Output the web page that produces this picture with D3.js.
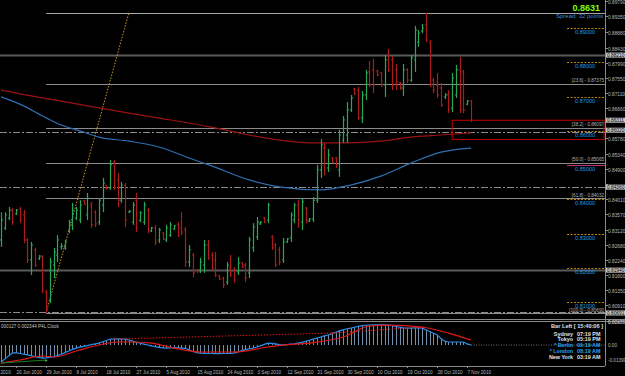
<!DOCTYPE html>
<html><head><meta charset="utf-8">
<script src="https://cdn.jsdelivr.net/npm/d3@7"></script>
<style>
body{margin:0;background:#000;overflow:hidden}
svg{display:block}
text{font-family:"Liberation Sans",Arial,sans-serif}
</style>
</head><body>
<svg id="c" width="625" height="376"></svg>
<script>
// ---------------- DATA ----------------
const dateLabels = ["11 Jun 2010","20 Jun 2010","29 Jun 2010","8 Jul 2010","18 Jul 2010","27 Jul 2010","5 Aug 2010","15 Aug 2010","24 Aug 2010","3 Sep 2010","12 Sep 2010","21 Sep 2010","30 Sep 2010","10 Oct 2010","19 Oct 2010","28 Oct 2010","7 Nov 2010"];
const dateBars = [-4,4,12,20,28,36,44,52,60,68,76,84,92,100,108,116,124];

const open  = [.8282,.8317,.8346,.8369,.8358,.8372,.8355,.8282,.8224,.8253,.8227,.8232,.8130,.8107,.8209,.8238,.8262,.8259,.8311,.8326,
 .8346,.8340,.8396,.8355,.8384,.8363,.8334,.8384,.8442,.8434,.8509,.8457,.8398,.8442,.8363,.8334,.8398,.8340,.8334,.8369,
 .8308,.8317,.8282,.8302,.8282,.8296,.8314,.8326,.8317,.8311,.8218,.8238,.8194,.8194,.8209,.8267,.8238,.8224,.8177,.8171,
 .8159,.8203,.8194,.8189,.8215,.8209,.8186,.8259,.8291,.8329,.8346,.8340,.8291,.8267,.8253,.8224,.8276,.8288,.8340,.8384,
 .8334,.8375,.8337,.8343,.8398,.8486,.8550,.8492,.8521,.8521,.8486,.8573,.8588,.8661,.8722,.8719,.8638,.8705,.8772,.8778,
 .8775,.8769,.8734,.8821,.8807,.8778,.8740,.8725,.8778,.8748,.8807,.8859,.8891,.8909,.8859,.8748,.8734,.8725,.8699,.8705,
 .8667,.8705,.8778,.8772,.8678,.8687];
const high  = [.8363,.8363,.8378,.8375,.8372,.8378,.8369,.8288,.8276,.8259,.8238,.8238,.8136,.8230,.8259,.8296,.8273,.8282,.8340,.8390,
 .8378,.8398,.8398,.8419,.8393,.8369,.8404,.8463,.8442,.8515,.8515,.8477,.8451,.8448,.8369,.8393,.8419,.8366,.8393,.8375,
 .8320,.8326,.8317,.8305,.8326,.8334,.8326,.8334,.8363,.8320,.8267,.8244,.8194,.8230,.8282,.8282,.8247,.8247,.8180,.8174,
 .8218,.8238,.8203,.8232,.8218,.8215,.8291,.8331,.8349,.8337,.8349,.8390,.8296,.8273,.8262,.8288,.8288,.8363,.8390,.8398,
 .8404,.8378,.8346,.8407,.8501,.8576,.8565,.8547,.8524,.8524,.8603,.8643,.8684,.8705,.8725,.8728,.8716,.8778,.8804,.8810,
 .8778,.8772,.8821,.8839,.8818,.8795,.8743,.8795,.8783,.8821,.8906,.8894,.8912,.8944,.8865,.8754,.8769,.8740,.8710,.8719,
 .8769,.8792,.8815,.8778,.8690,.8690];
const low   = [.8262,.8311,.8340,.8326,.8355,.8331,.8273,.8215,.8180,.8203,.8224,.8127,.8069,.8098,.8171,.8218,.8253,.8253,.8302,.8311,
 .8340,.8331,.8384,.8340,.8317,.8320,.8326,.8363,.8428,.8428,.8428,.8378,.8390,.8320,.8361,.8326,.8305,.8334,.8326,.8302,
 .8305,.8267,.8273,.8282,.8276,.8291,.8311,.8291,.8296,.8203,.8203,.8174,.8186,.8186,.8186,.8224,.8194,.8174,.8165,.8142,
 .8151,.8174,.8157,.8180,.8200,.8159,.8171,.8247,.8282,.8326,.8331,.8331,.8253,.8203,.8209,.8215,.8273,.8276,.8331,.8317,
 .8311,.8331,.8334,.8334,.8390,.8463,.8471,.8480,.8506,.8492,.8466,.8565,.8565,.8655,.8705,.8632,.8623,.8690,.8728,.8710,
 .8760,.8728,.8699,.8772,.8719,.8719,.8719,.8702,.8740,.8743,.8772,.8845,.8885,.8859,.8728,.8710,.8696,.8670,.8693,.8652,
 .8655,.8696,.8652,.8652,.8675,.8626];
const close = [.8340,.8355,.8369,.8334,.8369,.8340,.8282,.8224,.8267,.8209,.8235,.8136,.8078,.8218,.8247,.8282,.8264,.8276,.8334,.8369,
 .8369,.8384,.8387,.8404,.8326,.8329,.8398,.8448,.8431,.8501,.8434,.8398,.8442,.8340,.8366,.8384,.8317,.8361,.8384,.8311,
 .8317,.8276,.8311,.8285,.8317,.8326,.8323,.8296,.8305,.8218,.8253,.8186,.8189,.8218,.8267,.8230,.8200,.8180,.8168,.8151,
 .8209,.8180,.8165,.8215,.8203,.8171,.8282,.8320,.8334,.8334,.8334,.8384,.8259,.8209,.8218,.8276,.8285,.8355,.8384,.8340,
 .8393,.8340,.8343,.8398,.8486,.8559,.8486,.8530,.8509,.8501,.8588,.8632,.8661,.8696,.8708,.8638,.8705,.8769,.8734,.8734,
 .8763,.8734,.8807,.8778,.8734,.8743,.8725,.8778,.8748,.8813,.8894,.8885,.8900,.8865,.8734,.8719,.8705,.8675,.8705,.8661,
 .8754,.8778,.8661,.8661,.8687,.8631];

// moving averages, read at sampled bars
const maRedBars = [0,8,16,26,40,56,66,74,82,92,101,109,117,125];
const maRedVals = [.8719,.8702,.8687,.8667,.8641,.8611,.8588,.8573,.8565,.8565,.8570,.8582,.8588,.8594];
const maBlueBars = [0,5,12,16,21,26,34,42,50,56,66,74,85,93,101,109,117,125];
const maBlueVals = [.8699,.8678,.8638,.8617,.8600,.8582,.8570,.8553,.8521,.8498,.8457,.8437,.8428,.8442,.8468,.8506,.8538,.8550];

// indicator (sub window)
const macd = [-.0156,-.0130,-.0100,-.0074,-.0070,-.0078,-.0083,-.0090,-.0098,-.0106,-.0114,-.0120,-.0118,-.0112,-.0110,-.0098,-.0085,-.0070,-.0055,-.0040,
 -.0028,-.0020,-.0012,-.0005,.0004,.0010,.0018,.0030,.0042,.0055,.0056,.0058,.0056,.0055,.0046,.0036,.0026,.0016,.0008,.0000,
 -.0008,-.0015,-.0022,-.0026,-.0028,-.0026,-.0024,-.0026,-.0028,-.0030,-.0045,-.0060,-.0070,-.0074,-.0076,-.0078,-.0078,-.0080,-.0080,-.0078,
 -.0078,-.0076,-.0074,-.0064,-.0052,-.0042,-.0034,-.0028,-.0018,-.0008,.0006,.0018,.0016,.0010,.0004,.0000,.0004,.0008,.0012,.0018,
 .0024,.0034,.0044,.0054,.0064,.0074,.0084,.0092,.0104,.0118,.0130,.0140,.0150,.0156,.0164,.0172,.0178,.0182,.0184,.0186,
 .0186,.0186,.0185,.0184,.0180,.0172,.0164,.0158,.0156,.0156,.0158,.0158,.0156,.0140,.0124,.0108,.0092,.0060,.0036,.0028,
 .0028,.0028,.0028,.0028,.0010,.0000];
const sigBars = [0,5,11,14,20,26,31,35,40,46,53,62,71,75,82,91,98,103,112,119,125];
const sigVals = [-.0166,-.0138,-.0101,-.0110,-.0055,0,.0028,.0028,.0018,-.0028,-.0064,-.0064,-.0018,0,.0018,.0074,.0175,.0184,.0166,.0110,.0046];

// price axis
const priceTicks = [0.89790,0.89350,0.88880,0.88430,0.87990,0.87550,0.87110,0.86660,0.85780,0.85340,0.84900,0.84450,0.84010,0.83570,0.83120,0.82680,0.82240,0.81800,0.81350,0.80910,0.80470];
const roundLevels = [0.89,0.88,0.87,0.86,0.85,0.84,0.83,0.82,0.81];
const fibRatios = [0,0.236,0.382,0.5,0.618,1];
const fibLowBar = 12, fibHighBar = 113, fibLineEndBar = 34;
const hLines = [0.8821,0.8194];
const dashDotLines = [0.8598,0.8436,0.8072];
const priceBoxes = [0.8821,0.86311,0.8602,0.8436,0.8194,0.80691];
const bid = 0.8631, spread = 32;
const clockNames = ["Sydney","Tokyo","* Berlin","* London","New York"];
const clockTimes = ["07:19 PM","05:19 PM","09:19 AM","08:19 AM","03:19 AM"];
const indTicks = [0.0212,0,-0.01399];

// ---------------- DRAW ----------------
const svg = d3.select("#c");
const W = 625, H = 376, plotR = 605, mainB = 319, indT = 322, indB = 366;
svg.append("rect").attr("width",W).attr("height",H).attr("fill","#000");

const x = d3.scaleLinear().domain([0,125]).range([1,471]);
const y = d3.scaleLinear().domain([0.89816, 0.89816-319*0.00029155]).range([0,319]);
const yi = d3.scaleLinear().domain([0.0212,-0.0193]).range([322,366]);

svg.append("defs").append("clipPath").attr("id","mc").append("rect").attr("x",0).attr("y",0).attr("width",plotR).attr("height",mainB);
const g = svg.append("g").attr("clip-path","url(#mc)");

const fibHigh = high[fibHighBar], fibLow = low[fibLowBar];
const fibVals = fibRatios.map(r => fibHigh - r*(fibHigh-fibLow));

// horizontal solid lines (full width)
hLines.forEach(p => g.append("line").attr("x1",0).attr("x2",plotR).attr("y1",Math.round(y(p))+0.5).attr("y2",Math.round(y(p))+0.5).attr("stroke","#5a5a5a").attr("stroke-width",2));
// dash-dot
dashDotLines.forEach(p => g.append("line").attr("x1",0).attr("x2",plotR).attr("y1",Math.round(y(p))+0.5).attr("y2",Math.round(y(p))+0.5).attr("stroke","#8a8a8a").attr("stroke-width",1).attr("stroke-dasharray","7,2,2,2"));
// fib lines
fibVals.forEach((p,k) => g.append("line").attr("x1",x(fibLowBar)).attr("x2",plotR).attr("y1",Math.round(y(p))+0.5).attr("y2",Math.round(y(p))+0.5).attr("stroke", k===0?"#a8a8a8":"#8c8c8c").attr("stroke-width",1.2));
// fib labels (the 0.0 one sits under the bid readout, as in the original)
fibVals.forEach((p,k) => { if (k===0) return; g.append("text").attr("x",604).attr("y",y(p)-1.5).attr("text-anchor","end").attr("font-size",4.6).attr("fill","#b4b4b4")
  .text("["+(fibRatios[k]*100).toFixed(1)+"] - "+p.toFixed(5)); });
// fib diagonal
g.append("line").attr("x1",x(fibLowBar)).attr("y1",y(fibLow)).attr("x2",x(fibLineEndBar)).attr("y2",y(fibHigh)).attr("stroke","#c89a28").attr("stroke-width",1).attr("stroke-dasharray","1.5,1.5");

// round-number levels
roundLevels.forEach(p => {
  const yy = Math.round(y(p))+0.5;
  const mag = Math.abs(p-0.85)<1e-9;
  const c = mag ? "#c0307a" : "#b8860b";
  g.append("line").attr("x1",567).attr("x2",plotR).attr("y1",yy).attr("y2",yy).attr("stroke",c).attr("stroke-width",1).attr("stroke-dasharray", mag?null:"2,1.5");
  g.append("text").attr("x",575).attr("y",yy+5.5).attr("font-size",5.6).attr("fill","#1e9be6").text(p.toFixed(5));
});

// moving averages
const lineGen = d3.line().curve(d3.curveMonotoneX);
g.append("path").attr("d",lineGen(maRedBars.map((b,i)=>[x(b),y(maRedVals[i])]))).attr("fill","none").attr("stroke","#9a1212").attr("stroke-width",1.2);
g.append("path").attr("d",lineGen(maBlueBars.map((b,i)=>[x(b),y(maBlueVals[i])]))).attr("fill","none").attr("stroke","#2f6fb0").attr("stroke-width",1.2);

// bars
const bars = g.append("g");
open.forEach((o,i) => {
  const up = close[i] >= o;
  const col = up ? "#27a85c" : "#ad1c1c";
  const xx = Math.round(x(i))+0.5;
  bars.append("line").attr("x1",xx).attr("x2",xx).attr("y1",y(high[i])).attr("y2",y(low[i])).attr("stroke",col).attr("stroke-width",1.2);
  bars.append("line").attr("x1",xx-1.6).attr("x2",xx).attr("y1",y(o)).attr("y2",y(o)).attr("stroke",col).attr("stroke-width",1);
  bars.append("line").attr("x1",xx).attr("x2",xx+1.6).attr("y1",y(close[i])).attr("y2",y(close[i])).attr("stroke",col).attr("stroke-width",1);
});

// red rectangle
g.append("rect").attr("x",x(120)).attr("y",y(bid)).attr("width",plotR-1-x(120)).attr("height",y(0.8575)-y(bid)).attr("fill","none").attr("stroke","#c00000").attr("stroke-width",1);

// top right info
g.append("text").attr("x",600).attr("y",11).attr("text-anchor","end").attr("font-size",9).attr("font-weight","bold").attr("fill","#7fff00").text(bid.toFixed(4));
g.append("text").attr("x",603).attr("y",18).attr("text-anchor","end").attr("font-size",6).attr("fill","#4a86c4").text("Spread: "+spread+" points");

// frame
svg.append("line").attr("x1",plotR+0.5).attr("x2",plotR+0.5).attr("y1",0).attr("y2",indB).attr("stroke","#8a8a8a");
svg.append("line").attr("x1",0).attr("x2",W).attr("y1",mainB+0.5).attr("y2",mainB+0.5).attr("stroke","#8a8a8a");
svg.append("line").attr("x1",0).attr("x2",W).attr("y1",indT-0.5).attr("y2",indT-0.5).attr("stroke","#8a8a8a");
svg.append("line").attr("x1",0).attr("x2",plotR).attr("y1",indB+0.5).attr("y2",indB+0.5).attr("stroke","#8a8a8a");

// price axis labels (ticks under a price box are hidden by it)
priceTicks.forEach(p => {
  const yy = Math.round(y(p))+0.5;
  svg.append("line").attr("x1",plotR).attr("x2",plotR+3).attr("y1",yy).attr("y2",yy).attr("stroke","#8a8a8a");
  if (priceBoxes.some(b => Math.abs(y(b)-y(p)) < 4.5)) return;
  svg.append("text").attr("x",608).attr("y",yy+2).attr("font-size",4.8).attr("fill","#b8b8b8").text(p.toFixed(5));
});
priceBoxes.forEach(p => {
  const yy = y(p);
  svg.append("rect").attr("x",plotR+1).attr("y",yy-2.5).attr("width",20).attr("height",5).attr("fill","#c8c8c8");
  svg.append("text").attr("x",607).attr("y",yy+2).attr("font-size",4.8).attr("fill","#000").text(p.toFixed(5));
});

// ---------------- indicator ----------------
const gi = svg.append("g");
gi.append("text").attr("x",1).attr("y",328).attr("font-size",4.6).attr("fill","#c0c0c0").text("000127 0.002344   P4L Clock");
macd.forEach((v,i) => gi.append("line").attr("x1",Math.round(x(i))+0.5).attr("x2",Math.round(x(i))+0.5).attr("y1",yi(0)).attr("y2",yi(v)).attr("stroke","#8fb3d6").attr("stroke-width",0.8));
gi.append("path").attr("d",d3.line()(macd.map((v,i)=>[x(i),yi(v)]))).attr("fill","none").attr("stroke","#2b8de8").attr("stroke-width",1.2);
gi.append("path").attr("d",lineGen(sigBars.map((b,i)=>[x(b),yi(sigVals[i])]))).attr("fill","none").attr("stroke","#e01818").attr("stroke-width",1.2);
// divergence lines
gi.append("line").attr("x1",x(30)).attr("y1",yi(0.0055)).attr("x2",x(88)).attr("y2",yi(0.0110)).attr("stroke","#e01818").attr("stroke-dasharray","1.5,1.5");
gi.append("line").attr("x1",x(88)).attr("y1",yi(0.0110)).attr("x2",x(112)).attr("y2",yi(0.0166)).attr("stroke","#e01818").attr("stroke-dasharray","1.5,1.5");
gi.append("line").attr("x1",x(0)).attr("y1",yi(-0.0166)).attr("x2",x(12)).attr("y2",yi(-0.0138)).attr("stroke","#1f7a1f").attr("stroke-width",1);
[[88,0.0110,"#e01818"],[112,0.0166,"#e01818"],[12,-0.0138,"#3cd05a"]].forEach(d => {
  gi.append("text").attr("x",x(d[0])).attr("y",yi(d[1])+2).attr("text-anchor","middle").attr("font-size",6).attr("font-weight","bold").attr("fill",d[2]).text("+");
});
gi.append("line").attr("x1",x(125)).attr("x2",plotR).attr("y1",yi(0)).attr("y2",yi(0)).attr("stroke","#707070").attr("stroke-dasharray","1,1.5");

// clock
gi.append("text").attr("x",603).attr("y",328).attr("text-anchor","end").attr("font-size",5.6).attr("font-weight","bold").attr("fill","#e0e0e0").text("Bar Left [ 15:40:06 ]");
clockNames.forEach((n,k) => {
  const col = n.startsWith("*") ? "#2aa0f0" : "#e0e0e0";
  const yy = 335.5 + k*5.8;
  gi.append("text").attr("x",573).attr("y",yy).attr("text-anchor","end").attr("font-size",5.4).attr("font-weight","bold").attr("fill",col).text(n);
  gi.append("text").attr("x",577).attr("y",yy).attr("font-size",5.4).attr("font-weight","bold").attr("fill",col).text(clockTimes[k]);
});
indTicks.forEach(v => {
  svg.append("text").attr("x",608).attr("y",Math.min(yi(v)+2,366)).attr("font-size",4.6).attr("fill","#b8b8b8").text(v===0?"0.00":v.toFixed(5));
});

// date axis (first label is partly off the left edge, as in the original)
dateBars.forEach((b,k) => {
  const xx = Math.round(x(b))+0.5;
  if (xx > 0) svg.append("line").attr("x1",xx).attr("x2",xx).attr("y1",indB).attr("y2",indB+2).attr("stroke","#8a8a8a");
  const t = xx < 0 ? dateLabels[k].split(" ").pop() : dateLabels[k];
  svg.append("text").attr("x",Math.max(xx,0.5)).attr("y",374).attr("font-size",4.6).attr("fill","#b8b8b8").text(t);
});
</script>
</body></html>
